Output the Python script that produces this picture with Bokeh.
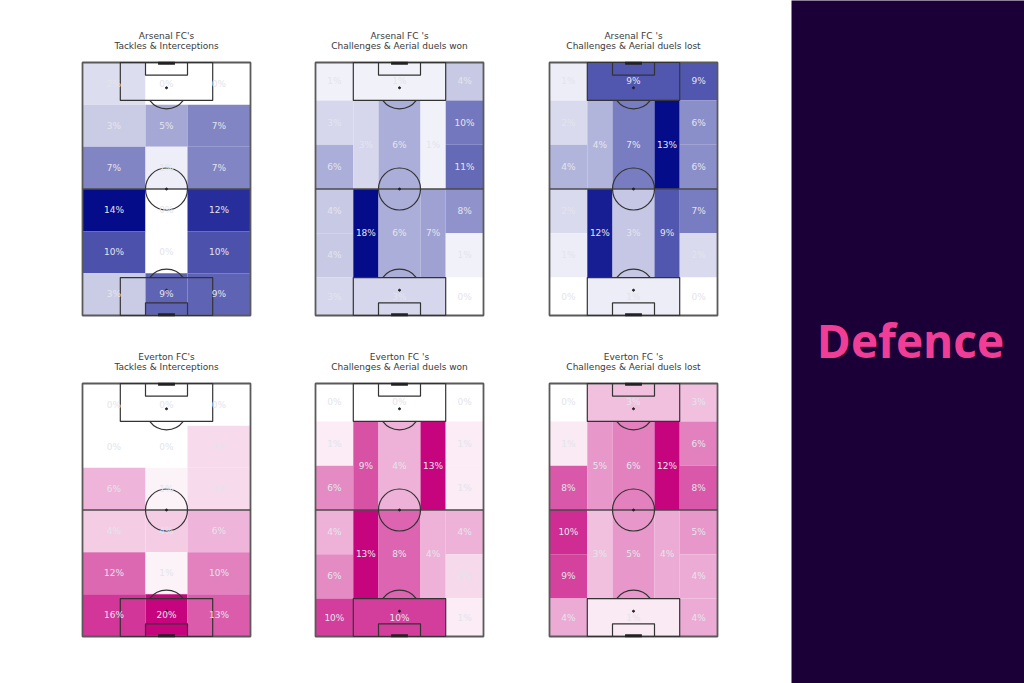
import numpy as np
from bokeh.plotting import figure
from bokeh.layouts import row, column
from bokeh.models import ColumnDataSource, Range1d
from bokeh.transform import linear_cmap
from bokeh.embed import file_html
from bokeh.resources import INLINE
from bokeh.core.properties import value

# ---------------- data ----------------
team_titles = ["Arsenal FC", "Everton FC"]
metric_titles = ["Tackles & Interceptions", "Challenges & Aerial duels won", "Challenges & Aerial duels lost"]

# 3 x 6 grid (rows listed from top of pitch to bottom, columns left -> right)
arsenal_tackles = [[2, 0, 0], [3, 5, 7], [7, 1, 7], [14, 0, 12], [10, 0, 10], [3, 9, 9]]
everton_tackles = [[0, 0, 0], [0, 0, 3], [6, 1, 3], [4, 4, 6], [12, 1, 10], [16, 20, 13]]

# positional zones (order defined by ZONES below)
arsenal_won = [1, 1, 4, 3, 6, 3, 6, 1, 10, 11, 4, 4, 18, 6, 7, 8, 1, 3, 3, 0]
arsenal_lost = [1, 9, 9, 2, 4, 4, 7, 13, 6, 6, 2, 1, 12, 3, 9, 7, 2, 0, 1, 0]
everton_won = [0, 0, 0, 1, 6, 9, 4, 13, 1, 1, 4, 6, 13, 8, 4, 4, 2, 10, 10, 1]
everton_lost = [0, 3, 3, 1, 8, 5, 6, 12, 6, 8, 10, 9, 3, 5, 4, 5, 4, 4, 1, 4]

# ---------------- grid geometry (pitch units, 80 wide x 120 long) ----------------
TACKLE_X = [0, 30, 50, 80]
TACKLE_Y = [120, 100, 80, 60, 40, 20, 0]
ZONES = [
    (0, 18, 102, 120), (18, 62, 102, 120), (62, 80, 102, 120),
    (0, 18, 81, 102), (0, 18, 60, 81),
    (18, 30, 60, 102), (30, 50, 60, 102), (50, 62, 60, 102),
    (62, 80, 81, 102), (62, 80, 60, 81),
    (0, 18, 39, 60), (0, 18, 18, 39),
    (18, 30, 18, 60), (30, 50, 18, 60), (50, 62, 18, 60),
    (62, 80, 39, 60), (62, 80, 18, 39),
    (0, 18, 0, 18), (18, 62, 0, 18), (62, 80, 0, 18),
]

BLUE = (4, 12, 138)
PINK = (198, 4, 126)
LINE = "#333333"
TXT = "#e4e4ec"


def palette(rgb, n=256):
    t = np.linspace(0, 1, n)
    out = []
    for v in t:
        c = [int(round(255 + (k - 255) * v)) for k in rgb]
        out.append("#%02x%02x%02x" % tuple(c))
    return out


def tackle_source(vals):
    L, R, B, T, X, Y, V = [], [], [], [], [], [], []
    for i in range(6):
        for j in range(3):
            L.append(TACKLE_X[j]); R.append(TACKLE_X[j + 1])
            T.append(TACKLE_Y[i]); B.append(TACKLE_Y[i + 1])
            X.append((TACKLE_X[j] + TACKLE_X[j + 1]) / 2)
            Y.append((TACKLE_Y[i] + TACKLE_Y[i + 1]) / 2)
            V.append(vals[i][j])
    return dict(left=L, right=R, bottom=B, top=T, x=X, y=Y, v=V, lab=["%d%%" % v for v in V])


def zone_source(vals):
    L = [z[0] for z in ZONES]; R = [z[1] for z in ZONES]
    B = [z[2] for z in ZONES]; T = [z[3] for z in ZONES]
    X = [(z[0] + z[1]) / 2 for z in ZONES]; Y = [(z[2] + z[3]) / 2 for z in ZONES]
    return dict(left=L, right=R, bottom=B, top=T, x=X, y=Y, v=list(vals), lab=["%d%%" % v for v in vals])


FIG_W = [264, 264, 263]
FIG_L = [0, 264, 528]
FIG_H = [341, 342]
FIG_T = [0, 341]
PITCH_L = [82, 315, 549]
PITCH_T = [62, 383]


def pitch_fig(col, rw, data, rgb, t1, t2):
    W = FIG_W[col]
    H = FIG_H[rw]
    sx = 168 / 80
    sy = 253 / 120
    x0 = -(PITCH_L[col] - FIG_L[col]) / sx
    x1 = x0 + W / sx
    ytop = 120 + (PITCH_T[rw] - FIG_T[rw]) / sy
    ybot = ytop - H / sy
    p = figure(width=W, height=H, x_range=Range1d(x0, x1), y_range=Range1d(ybot, ytop),
               output_backend="svg", toolbar_location=None, tools="",
               x_axis_type=None, y_axis_type=None, min_border=0,
               outline_line_color=None, background_fill_color="white",
               border_fill_color="white")
    src = ColumnDataSource(data)
    vals = data["v"]
    p.quad(left="left", right="right", bottom="bottom", top="top", source=src,
           fill_color=linear_cmap("v", palette(rgb), min(vals), max(vals)),
           line_color=None)
    # pitch markings
    p.quad(left=[0], right=[80], bottom=[0], top=[120], fill_alpha=0,
           line_color="#5a5a5a", line_width=1.8)
    p.segment(x0=[0], y0=[60], x1=[80], y1=[60], line_color="#4a4a4a", line_width=1.6)
    p.circle(x=[40], y=[60], radius=10, fill_alpha=0, line_color=LINE, line_width=1.2)
    p.quad(left=[18, 18, 30, 30], right=[62, 62, 50, 50], bottom=[102, 0, 114, 0],
           top=[120, 18, 120, 6], fill_alpha=0, line_color=LINE, line_width=1.2)
    p.arc(x=[40, 40], y=[108, 12], radius=10,
          start_angle=[np.pi + 0.6435, 0.6435], end_angle=[2 * np.pi - 0.6435, np.pi - 0.6435],
          line_color=LINE, line_width=1.2)
    p.scatter(x=[40, 40, 40], y=[60, 108, 12], size=2, color="#222222")
    p.segment(x0=[36, 36], y0=[119.6, 0.4], x1=[44, 44], y1=[119.6, 0.4],
              line_color="#222222", line_width=3)
    # labels
    p.text(x="x", y="y", text="lab", source=src, text_align="center", text_baseline="middle",
           text_color=TXT, text_font=value("DejaVu Sans"), text_font_size="9px")
    # titles
    p.text(x=[40, 40], y=[120 + 26.5 / sy, 120 + 16.5 / sy], text=[t1, t2],
           text_align="center", text_baseline="middle", text_color="#3a3a3a",
           text_font=value("DejaVu Sans"), text_font_size="9px")
    return p


figs = [
    pitch_fig(0, 0, tackle_source(arsenal_tackles), BLUE, team_titles[0] + "'s", metric_titles[0]),
    pitch_fig(1, 0, zone_source(arsenal_won), BLUE, team_titles[0] + " 's", metric_titles[1]),
    pitch_fig(2, 0, zone_source(arsenal_lost), BLUE, team_titles[0] + " 's", metric_titles[2]),
    pitch_fig(0, 1, tackle_source(everton_tackles), PINK, team_titles[1] + "'s", metric_titles[0]),
    pitch_fig(1, 1, zone_source(everton_won), PINK, team_titles[1] + " 's", metric_titles[1]),
    pitch_fig(2, 1, zone_source(everton_lost), PINK, team_titles[1] + " 's", metric_titles[2]),
]

panel = figure(width=233, height=683, x_range=Range1d(791, 1024), y_range=Range1d(683, 0),
               output_backend="svg", toolbar_location=None, tools="",
               x_axis_type=None, y_axis_type=None, min_border=0,
               outline_line_color=None, background_fill_color="#1a0036",
               border_fill_color="#1a0036")
panel.text(x=[910], y=[339], text=["Defence"], text_align="center", text_baseline="middle",
           text_color="#f03e97", text_font=value("Open Sans"), text_font_style="bold",
           text_font_size="46px")

layout = row(column(row(*figs[:3]), row(*figs[3:])), panel)

open("out.html", "w").write(file_html(layout, INLINE))
